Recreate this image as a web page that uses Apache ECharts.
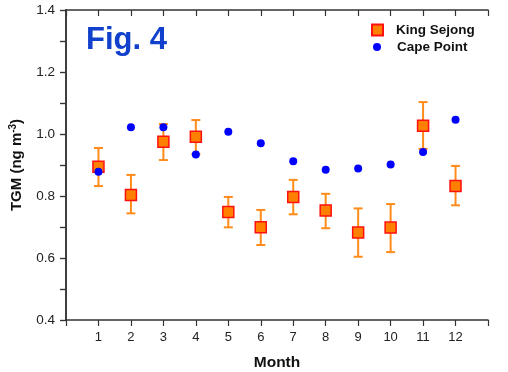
<!DOCTYPE html>
<html>
<head>
<meta charset="utf-8">
<script src="https://cdn.jsdelivr.net/npm/echarts@6/dist/echarts.min.js"></script>
<style>
  html, body { margin: 0; padding: 0; background: #fff; }
  #main { width: 508px; height: 372px; }
</style>
</head>
<body>
<div id="main"></div>
<script>
// months and values
var months = [1, 2, 3, 4, 5, 6, 7, 8, 9, 10, 11, 12];
var ksMean = [0.894, 0.803, 0.975, 0.991, 0.748, 0.699, 0.797, 0.753, 0.682, 0.698, 1.027, 0.832];
var ksLow  = [0.832, 0.744, 0.916, 0.935, 0.699, 0.642, 0.741, 0.696, 0.604, 0.619, 0.952, 0.770];
var ksHigh = [0.955, 0.868, 1.032, 1.045, 0.797, 0.755, 0.852, 0.807, 0.760, 0.774, 1.103, 0.897];
var cpMean = [0.878, 1.022, 1.022, 0.934, 1.007, 0.970, 0.912, 0.885, 0.889, 0.902, 0.942, 1.046];

var font = 'Liberation Sans';
var axisColor = '#333';

var myChart = echarts.init(document.getElementById('main'));

var ksData = months.map(function (m, i) { return [m, ksMean[i]]; });
var cpData = months.map(function (m, i) { return [m, cpMean[i]]; });
var errData = months.map(function (m, i) { return [m, ksLow[i], ksHigh[i]]; });

function yLabel(v) {
  var t = Math.round(v * 10);
  return t % 2 === 0 ? (t / 10).toFixed(1) : '';
}

var option = {
  animation: false,
  backgroundColor: '#fff',
  textStyle: { fontFamily: font },
  grid: { left: 66, top: 10, right: 20, bottom: 52, outerBoundsMode: 'none' },
  graphic: [
    {
      type: 'text',
      left: 86,
      top: 25,
      style: { text: 'Fig. 4', fill: '#1040cc', font: 'bold 31px "Liberation Sans"' }
    }
  ],
  legend: [
    {
      data: ['King Sejong'],
      left: 366, top: 18,
      itemWidth: 11, itemHeight: 11, itemGap: 4,
      textStyle: { fontFamily: font, fontWeight: 'bold', fontSize: 13.5, color: '#111', padding: [0, 0, 0, 8] }
    },
    {
      data: ['Cape Point'],
      left: 368, top: 35,
      itemWidth: 8, itemHeight: 8,
      textStyle: { fontFamily: font, fontWeight: 'bold', fontSize: 13.5, color: '#111', padding: [0, 0, 0, 11] }
    }
  ],
  xAxis: [
    {
      type: 'value', min: 0, max: 13, interval: 1,
      name: 'Month', nameLocation: 'middle', nameGap: 35,
      nameTextStyle: { fontFamily: font, fontWeight: 'bold', fontSize: 15.5, color: '#111' },
      axisLine: { lineStyle: { color: axisColor, width: 1.5 } },
      axisTick: { inside: false, length: 6, lineStyle: { color: axisColor, width: 1.2 } },
      axisLabel: {
        margin: 11, fontSize: 13, color: '#222', fontFamily: font,
        formatter: function (v) { return (v >= 1 && v <= 12) ? String(v) : ''; }
      },
      splitLine: { show: false }
    },
    {
      type: 'value', position: 'top', min: 0, max: 13, interval: 1,
      axisLine: { lineStyle: { color: axisColor, width: 1.5 } },
      axisTick: { inside: true, length: 6, lineStyle: { color: axisColor, width: 1.2 } },
      axisLabel: { show: false },
      splitLine: { show: false }
    }
  ],
  yAxis: [
    {
      type: 'value', min: 0.4, max: 1.4, interval: 0.1,
      name: '{a|TGM (ng m}{s|-3}{a|)}', nameLocation: 'middle', nameGap: 41, nameRotate: 90,
      nameTextStyle: {
        rich: {
          a: { fontFamily: font, fontWeight: 'bold', fontSize: 15, color: '#111' },
          s: { fontFamily: font, fontWeight: 'bold', fontSize: 10, color: '#111', verticalAlign: 'top', padding: [0, 0, 7, 0] }
        }
      },
      axisLine: { show: true, lineStyle: { color: axisColor, width: 1.5 } },
      axisTick: { show: true, inside: false, length: 6, lineStyle: { color: axisColor, width: 1.2 } },
      axisLabel: { margin: 11, fontSize: 13.5, color: '#222', fontFamily: font, formatter: yLabel },
      splitLine: { show: false }
    },
    {
      type: 'value', position: 'right', min: 0.4, max: 1.4, interval: 0.1,
      axisLine: { show: true, lineStyle: { color: axisColor, width: 1.5 } },
      axisTick: { show: true, inside: true, length: 6, lineStyle: { color: axisColor, width: 1.2 } },
      axisLabel: { show: false },
      splitLine: { show: false }
    }
  ],
  series: [
    {
      name: 'errors',
      type: 'custom',
      z: 2,
      data: errData,
      renderItem: function (params, api) {
        var x = api.value(0);
        var lo = api.coord([x, api.value(1)]);
        var hi = api.coord([x, api.value(2)]);
        var cap = 4.5;
        var st = { stroke: '#ff8c1a', lineWidth: 2 };
        return {
          type: 'group',
          children: [
            { type: 'line', shape: { x1: lo[0], y1: lo[1], x2: hi[0], y2: hi[1] }, style: st },
            { type: 'line', shape: { x1: lo[0] - cap, y1: lo[1], x2: lo[0] + cap, y2: lo[1] }, style: st },
            { type: 'line', shape: { x1: hi[0] - cap, y1: hi[1], x2: hi[0] + cap, y2: hi[1] }, style: st }
          ]
        };
      }
    },
    {
      name: 'King Sejong',
      type: 'scatter',
      z: 3,
      symbol: 'rect',
      symbolSize: 11,
      data: ksData,
      itemStyle: { color: '#ff8000', borderColor: '#ff1010', borderWidth: 1.5, opacity: 1 }
    },
    {
      name: 'Cape Point',
      type: 'scatter',
      z: 4,
      symbol: 'circle',
      symbolSize: 8,
      data: cpData,
      itemStyle: { color: '#0000ff', opacity: 1 }
    }
  ]
};
myChart.setOption(option);
</script>
</body>
</html>
